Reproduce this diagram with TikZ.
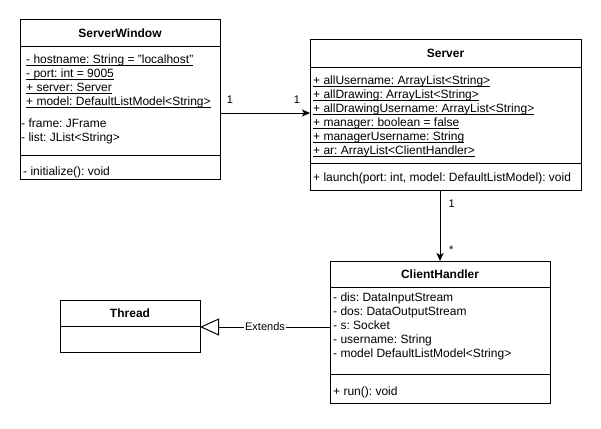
\documentclass[tikz,border=0pt]{standalone}
\usepackage{fontspec}
\setmainfont{Liberation Sans}
\usetikzlibrary{arrows.meta, positioning}
\frenchspacing
\newcommand{\ulin}[1]{\setbox0=\hbox{#1}\rlap{\rule[-2.2pt]{\wd0}{0.8pt}}\box0}

\tikzset{
 box/.style={draw, line width=1pt, outer sep=0pt, inner sep=0pt, anchor=north west},
 title/.style={box, font=\fontsize{12}{14}\selectfont\bfseries, text height=8.6pt, text depth=0pt},
 part/.style={box},
 member/.style={anchor=base west, inner sep=0pt, font=\fontsize{12}{14}\selectfont},
 lbl/.style={inner sep=0pt, font=\fontsize{11}{13}\selectfont},
 assoc/.style={line width=1pt, -{Stealth[length=8pt, width=7pt, inset=2pt]}},
 extends/.style={line width=1pt, -{Triangle[open, length=19pt, width=17pt]}}
}

\begin{document}
\begin{tikzpicture}[x=1pt, y=-1pt]
\useasboundingbox[fill=white] (0,0) rectangle (601,428);

\node[title, minimum width=200pt, minimum height=27pt] (sw) at (20,20) {ServerWindow};
\node[part, minimum width=200pt, minimum height=108pt, below=0pt of sw] (sw-attr) {};
\node[part, minimum width=200pt, minimum height=24pt, below=0pt of sw-attr] (sw-op) {};

\node[title, minimum width=271pt, minimum height=27pt] (srv) at (310,40) {Server};
\node[part, minimum width=271pt, minimum height=96pt, below=0pt of srv] (srv-attr) {};
\node[part, minimum width=271pt, minimum height=27pt, below=0pt of srv-attr] (srv-op) {};

\node[title, minimum width=220pt, minimum height=26pt] (ch) at (330,261) {ClientHandler};
\node[part, minimum width=220pt, minimum height=87pt, below=0pt of ch] (ch-attr) {};
\node[part, minimum width=220pt, minimum height=29pt, below=0pt of ch-attr] (ch-op) {};

\node[title, minimum width=140pt, minimum height=26pt] (thr) at (60,300) {Thread};
\node[part, minimum width=140pt, minimum height=26pt, below=0pt of thr] (thr-body) {};

\foreach \t [count=\i from 0] in {{- hostname: String = "localhost"}, {- port: int = 9005}, {+ server: Server}, {+ model: DefaultListModel<String>}}
 \node[member] (sw-u\i) at ({26},{63.5+14*\i}) {\ulin{\t}};
\foreach \t [count=\i from 0] in {{- frame: JFrame}, {- list: JList<String>}}
 \node[member] (sw-a\i) at ({21},{127.7+14*\i}) {\t};
\node[member] (sw-m0) at (23,175) {- initialize(): void};

\foreach \t [count=\i from 0] in {{+ allUsername: ArrayList<String>}, {+ allDrawing: ArrayList<String>}, {+ allDrawingUsername: ArrayList<String>}, {+ manager: boolean = false}, {+ managerUsername: String}, {+ ar: ArrayList<ClientHandler>}}
 \node[member] (srv-u\i) at ({313},{84.3+14*\i}) {\ulin{\t}};
\node[member] (srv-m0) at (313,181.7) {+ launch(port: int, model: DefaultListModel): void};

\foreach \t [count=\i from 0] in {{- dis: DataInputStream}, {- dos: DataOutputStream}, {- s: Socket}, {- username: String}, {- model DefaultListModel<String>}}
 \node[member] (ch-a\i) at ({333},{301.7+14*\i}) {\t};
\node[member] (ch-m0) at (333,395) {+ run(): void};

\draw[assoc] ([yshift=-12pt]sw-attr.east) -- ([yshift=2pt]srv-attr.west)
 node[lbl, at start, anchor=south west, xshift=6.3pt, yshift=9pt] (sw-n) {1}
 node[lbl, at end, anchor=south west, xshift=-16.7pt, yshift=9pt] (srv-n) {1};

\draw[assoc] (srv-op.south -| ch.north) -- (ch.north)
 node[lbl, at start, anchor=base west, xshift=8pt, yshift=-17.3pt] (srv-k) {1}
 node[lbl, at end, anchor=base west, xshift=8.6pt, yshift=7.4pt] (ch-k) {*};

\coordinate (ext-a) at ([yshift=3.5pt]ch-attr.west);
\draw[extends] (ext-a) -- (ext-a -| thr.east)
 node[lbl, midway, fill=white, inner xsep=1pt] (ext) {Extends};

\end{tikzpicture}
\end{document}
